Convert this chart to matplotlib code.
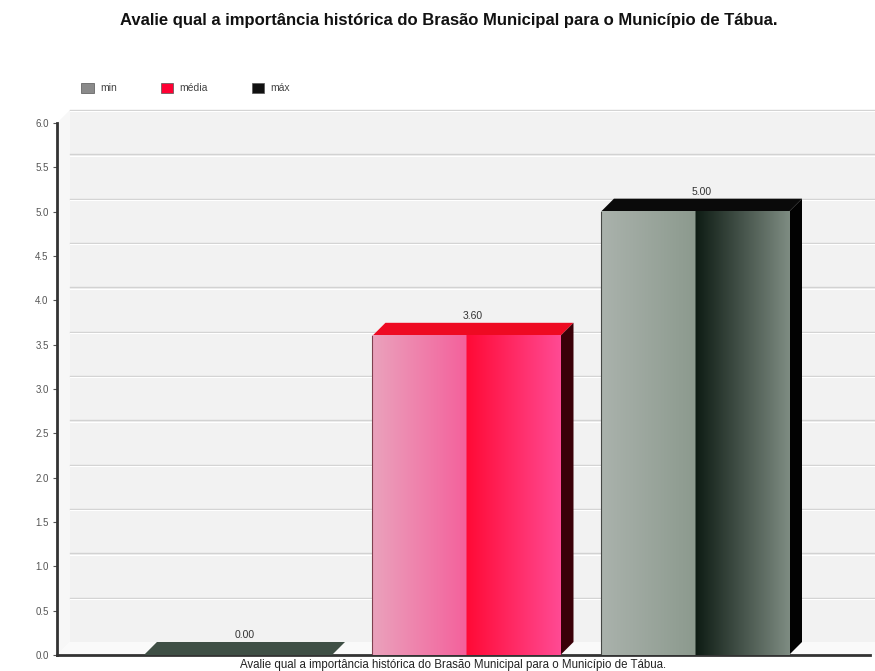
import numpy as np
import matplotlib as mpl
mpl.use("Agg")
import matplotlib.pyplot as plt
from matplotlib.patches import Polygon, Patch
from matplotlib.colors import to_rgb

title = "Avalie qual a importância histórica do Brasão Municipal para o Município de Tábua."
category = "Avalie qual a importância histórica do Brasão Municipal para o Município de Tábua."
series = ["min", "média", "máx"]
values = [0.00, 3.60, 5.00]

# front face: (left edge, centre-left, centre-right, right edge), top, side, legend
front_cols = [
    ("#a8b0aa", "#8c968e", "#2a3a30", "#5a665e"),
    ("#eaa2bc", "#f4619c", "#ff0a36", "#ff4a94"),
    ("#aab2ac", "#8c9a8e", "#0e1c14", "#7e8c82"),
]
top_cols = ["#3f4f45", "#ee0a22", "#0a0a0a"]
side_cols = ["#1e2a22", "#3a0008", "#020202"]
legend_cols = ["#8a8a8a", "#ff0033", "#111111"]

plt.rcParams["font.family"] = ["Liberation Sans", "DejaVu Sans"]

fig = plt.figure(figsize=(8.75, 6.71), dpi=100)
W, H = 875, 671
ax = fig.add_axes([57 / W, (H - 655) / H, (870 - 57) / W, (655 - 123) / H])

xmin, xmax = -0.792, 2.766
ymin, ymax = 0.0, 6.0
ax.set_xlim(xmin, xmax)
ax.set_ylim(ymin, ymax)

# depth of the 3D effect, in data units (~13 px each way)
px_x = (870 - 57) / (xmax - xmin)
px_y = (655 - 123) / (ymax - ymin)
dx = 13 / px_x
dy = 13 / px_y

# walls
ax.add_patch(Polygon([(xmin + dx, dy), (xmax + 0.02, dy), (xmax + 0.02, ymax + dy),
                      (xmin + dx, ymax + dy)], closed=True, facecolor="#f2f2f2",
                     edgecolor="none", clip_on=False, zorder=0))
ax.add_patch(Polygon([(xmin, 0), (xmin + dx, dy), (xmin + dx, ymax + dy), (xmin, ymax)],
                     closed=True, facecolor="#f7f7f7", edgecolor="none",
                     clip_on=False, zorder=0))
ax.add_patch(Polygon([(xmin, 0), (xmax + 0.02, 0), (xmax + 0.02, dy), (xmin + dx, dy)],
                     closed=True, facecolor="#fafafa", edgecolor="none",
                     clip_on=False, zorder=0))

ticks = np.arange(0, 6.01, 0.5)
for t in ticks[1:]:
    ax.plot([xmin + dx, xmax + 0.02], [t + dy, t + dy], color="#d2d2d2", lw=1.0,
            clip_on=False, zorder=1)
    ax.plot([xmin + dx, xmax + 0.02], [t + dy - 1.2 / px_y] * 2, color="#ffffff",
            lw=0.8, clip_on=False, zorder=1)

width = 0.823
xs = np.arange(len(values))


def gradient_strip(cols, n=200):
    a, b, c, d = [np.array(to_rgb(k)) for k in cols]
    half = n // 2
    left = np.linspace(0, 1, half)[:, None]
    right = np.linspace(0, 1, n - half)[:, None]
    strip = np.vstack([a + (b - a) * left, c + (d - c) * right])
    return strip[None, :, :]


for i, (x, v) in enumerate(zip(xs, values)):
    x0, x1 = x - width / 2, x + width / 2
    # top face
    ax.add_patch(Polygon([(x0, v), (x1, v), (x1 + dx, v + dy), (x0 + dx, v + dy)],
                         closed=True, facecolor=top_cols[i], edgecolor="none",
                         clip_on=False, zorder=3))
    if v > 0:
        # side face
        ax.add_patch(Polygon([(x1, 0), (x1 + dx, dy), (x1 + dx, v + dy), (x1, v)],
                             closed=True, facecolor=side_cols[i], edgecolor="none",
                             clip_on=False, zorder=3))
        # front face with the split gradient
        ax.imshow(gradient_strip(front_cols[i]), extent=(x0, x1, 0, v), aspect="auto",
                  interpolation="bilinear", zorder=4)
        ax.plot([x0, x0], [0, v], color=side_cols[i], lw=0.8, alpha=0.6, zorder=5)
    ax.text(x + dx / 2, v + dy + 1.5 / px_y, f"{v:.2f}", ha="center", va="bottom",
            fontsize=7.5, color="#333333", zorder=6)

ax.set_xlim(xmin, xmax)
ax.set_ylim(ymin, ymax)
ax.set_facecolor("none")

for s in ("top", "right"):
    ax.spines[s].set_visible(False)
ax.spines["left"].set_linewidth(2)
ax.spines["bottom"].set_linewidth(2)
ax.spines["left"].set_color("#333333")
ax.spines["bottom"].set_color("#333333")

ax.set_yticks(ticks)
ax.set_yticklabels([f"{t:.1f}" for t in ticks], fontsize=7, color="#555555")
ax.tick_params(axis="y", length=3, width=0.8, color="#555555", pad=3)
ax.set_xticks([])
ax.set_xlabel(category, fontsize=8.3, color="#222222")
ax.xaxis.set_label_coords(0.487, -4 / (655 - 123), transform=ax.transAxes)
ax.xaxis.label.set_va("top")

fig.text(449 / W, 1 - 20 / H, title, ha="center", va="center", fontsize=12,
         fontweight="bold", color="#111111")

handles = [Patch(facecolor=c, edgecolor="#555555", linewidth=0.5) for c in legend_cols]
fig.legend(handles, series, loc="center left", bbox_to_anchor=(72 / W, 1 - 88 / H),
           ncol=3, frameon=False, fontsize=7.5, handlelength=1.2, handleheight=1.2,
           handletextpad=0.6, columnspacing=4.2, labelcolor="#444444")

fig.savefig("out.png", dpi=100, facecolor="white")
